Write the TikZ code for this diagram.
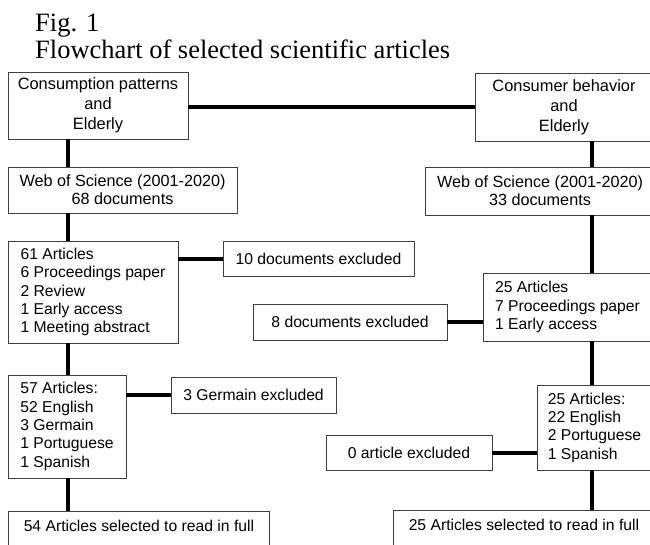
\documentclass[tikz,border=0pt]{standalone}
\usepackage{fontspec}
\setmainfont{Liberation Serif}
\newfontfamily\arialf{Liberation Sans}
\begin{document}
\begin{tikzpicture}[x=1pt,y=-1pt,
  box/.style={draw=black!75,line width=0.9pt,fill=white,rectangle,inner sep=0pt,
    font=\arialf\fontsize{15.7}{18.3}\selectfont},
  topbox/.style={box,font=\arialf\fontsize{16.4}{20}\selectfont,align=center},
  wosbox/.style={box,font=\arialf\fontsize{16.2}{18.3}\selectfont,align=center},
  listbox/.style={box,align=left},
  onebox/.style={box,align=center},
  endbox/.style={box,anchor=north west,inner ysep=9pt,text height=11.5pt,text depth=30pt,minimum width=261pt},
  conn/.style={line width=4pt,black},
  ttl/.style={anchor=base west,inner sep=0pt,font=\fontsize{26.5}{27}\selectfont}]
\useasboundingbox (0,0) rectangle (650,544);
\fill[white] (0,0) rectangle (650,544);
\node[ttl] (fig) at (35,31.7) {Fig. 1};
\node[ttl] (ttl) at (35,58.5) {Flowchart of selected scientific articles};
% left column
\node[topbox,minimum width=180pt,minimum height=67pt] (A) at (98,105.5) {Consumption patterns\\and\\Elderly};
\node[wosbox,minimum width=229pt,minimum height=46pt] (C) at (122.5,190) {Web of Science (2001-2020)\\68 documents};
\node[listbox,minimum width=170pt,minimum height=102pt] (E) at (93,292) {61 Articles\\6 Proceedings paper\\2 Review\\1 Early access\\1 Meeting abstract};
\node[onebox,minimum width=191pt,minimum height=35pt] (F) at (318.5,258.5) {10 documents excluded};
\node[listbox,minimum width=118pt,minimum height=103pt] (I) at (67,426.5) {57 Articles:\\52 English\\3 Germain\\1 Portuguese\\1 Spanish};
\node[onebox,minimum width=165pt,minimum height=36pt] (J) at (253.5,395) {3 Germain excluded};
\node[endbox] (M) at (8,511) {54 Articles selected to read in full};
% right column
\node[topbox,minimum width=178pt,minimum height=68pt] (B) at (564,107) {Consumer behavior\\and\\Elderly};
\node[wosbox,minimum width=230pt,minimum height=48pt] (D) at (540,191) {Web of Science (2001-2020)\\33 documents};
\node[listbox,minimum width=169pt,minimum height=68pt] (H) at (567.5,307) {25 Articles\\7 Proceedings paper\\1 Early access};
\node[onebox,minimum width=194pt,minimum height=36pt] (G) at (350,322) {8 documents excluded};
\node[listbox,minimum width=115pt,minimum height=85pt] (K) at (594.5,427.5) {25 Articles:\\22 English\\2 Portuguese\\1 Spanish};
\node[onebox,minimum width=166pt,minimum height=35pt] (L) at (409,452.5) {0 article excluded};
\node[endbox] (N) at (393,510) {25 Articles selected to read in full};
% connector columns
\coordinate (lx) at (68,0);
\coordinate (rx) at (592,0);
\draw[conn] (A.east |- B.west) -- (B.west);
\draw[conn] (A.south -| lx) -- (C.north -| lx);
\draw[conn] (C.south -| lx) -- (E.north -| lx);
\draw[conn] (F.west -| E.east) -- (F.west);
\draw[conn] (E.south -| lx) -- (I.north -| lx);
\draw[conn] (J.west -| I.east) -- (J.west);
\draw[conn] (I.south -| lx) -- (M.north -| lx);
\draw[conn] (B.south -| rx) -- (D.north -| rx);
\draw[conn] (D.south -| rx) -- (H.north -| rx);
\draw[conn] (G.east) -- (G.east -| H.west);
\draw[conn] (H.south -| rx) -- (K.north -| rx);
\draw[conn] (L.east) -- (L.east -| K.west);
\draw[conn] (K.south -| rx) -- (N.north -| rx);
\end{tikzpicture}
\end{document}
